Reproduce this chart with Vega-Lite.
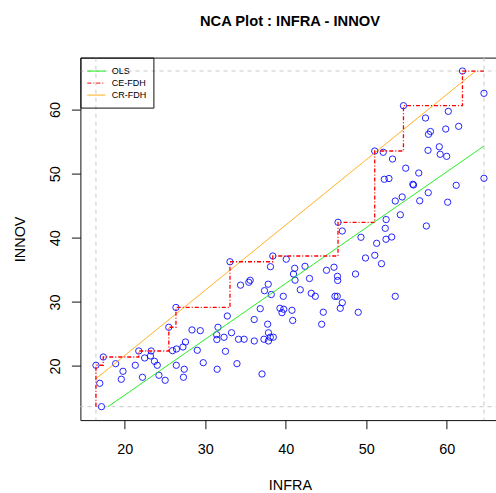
{
  "$schema": "https://vega.github.io/schema/vega-lite/v6.json",
  "width": 419.1,
  "height": 362.5,
  "autosize": {"type": "none"},
  "padding": {"left": 80.4, "top": 57.6, "right": 0, "bottom": 72.9},
  "background": "white",
  "view": {"stroke": "#111", "strokeWidth": 1},
  "title": {"text": "NCA Plot : INFRA - INNOV", "font": "Liberation Sans", "fontSize": 14.7, "fontWeight": "bold", "color": "#000", "anchor": "middle", "frame": "group", "baseline": "alphabetic", "offset": 16},
  "datasets": {
    "pts": [
      {"x":17.12,"y":13.65},{"x":16.91,"y":17.30},{"x":16.43,"y":20.11},{"x":17.34,"y":21.40},{"x":18.88,"y":20.36},
      {"x":19.79,"y":19.17},{"x":19.58,"y":17.93},{"x":21.32,"y":20.11},{"x":21.75,"y":22.34},{"x":22.21,"y":18.24},
      {"x":22.48,"y":21.25},{"x":23.20,"y":21.56},{"x":23.29,"y":22.34},{"x":23.70,"y":20.73},{"x":24.05,"y":20.11},
      {"x":24.26,"y":18.55},{"x":25.03,"y":17.77},{"x":25.48,"y":26.04},{"x":25.94,"y":22.39},{"x":26.37,"y":29.13},
      {"x":26.43,"y":22.65},{"x":26.41,"y":20.11},{"x":27.24,"y":22.96},{"x":27.55,"y":23.74},{"x":27.40,"y":19.49},
      {"x":27.30,"y":18.24},{"x":28.36,"y":25.62},{"x":29.39,"y":25.51},{"x":29.02,"y":22.45},{"x":29.76,"y":20.51},
      {"x":31.59,"y":26.04},{"x":31.43,"y":24.88},{"x":31.45,"y":24.13},{"x":32.34,"y":24.48},{"x":32.52,"y":22.29},
      {"x":31.49,"y":19.49},{"x":32.75,"y":27.80},{"x":33.08,"y":36.26},{"x":33.27,"y":25.19},{"x":33.95,"y":20.36},
      {"x":34.14,"y":24.17},{"x":34.84,"y":24.17},{"x":34.39,"y":32.61},{"x":35.42,"y":33.06},{"x":35.59,"y":33.37},
      {"x":36.09,"y":27.25},{"x":36.10,"y":23.90},{"x":36.84,"y":28.94},{"x":37.06,"y":18.75},{"x":37.37,"y":31.75},
      {"x":37.83,"y":32.76},{"x":38.21,"y":31.15},{"x":38.11,"y":35.49},{"x":38.40,"y":37.16},{"x":37.76,"y":26.52},
      {"x":37.86,"y":25.18},{"x":37.30,"y":24.17},{"x":37.86,"y":23.90},{"x":38.09,"y":24.49},{"x":38.46,"y":24.49},
      {"x":39.70,"y":30.87},{"x":39.29,"y":29.00},{"x":39.54,"y":28.32},{"x":39.76,"y":28.85},{"x":40.78,"y":28.69},
      {"x":40.87,"y":27.10},{"x":41.12,"y":35.24},{"x":40.97,"y":34.35},{"x":41.16,"y":33.39},{"x":40.07,"y":36.66},
      {"x":42.40,"y":35.55},{"x":41.81,"y":31.89},{"x":42.96,"y":33.65},{"x":43.18,"y":31.34},{"x":43.68,"y":30.87},
      {"x":44.67,"y":28.39},{"x":44.47,"y":26.51},{"x":45.07,"y":34.93},{"x":46.00,"y":35.41},{"x":46.43,"y":33.99},
      {"x":46.46,"y":33.34},{"x":47.03,"y":41.06},{"x":46.50,"y":42.42},{"x":46.12,"y":30.87},{"x":46.41,"y":30.87},
      {"x":47.03,"y":29.88},{"x":46.78,"y":29.00},{"x":48.67,"y":34.35},{"x":49.01,"y":28.38},{"x":49.35,"y":40.08},
      {"x":51.30,"y":39.14},{"x":52.46,"y":39.77},{"x":53.17,"y":40.12},{"x":49.91,"y":36.85},{"x":51.07,"y":37.27},
      {"x":51.90,"y":35.96},{"x":53.61,"y":30.87},{"x":52.37,"y":41.48},{"x":57.47,"y":41.84},{"x":52.48,"y":42.85},
      {"x":54.24,"y":43.59},{"x":53.61,"y":45.74},{"x":54.47,"y":46.37},{"x":56.65,"y":45.77},{"x":60.12,"y":45.55},
      {"x":57.71,"y":47.04},{"x":55.79,"y":48.35},{"x":55.88,"y":48.24},{"x":61.18,"y":48.19},{"x":64.63,"y":49.28},
      {"x":52.25,"y":49.13},{"x":52.83,"y":49.25},{"x":54.91,"y":50.86},{"x":56.53,"y":50.11},{"x":51.06,"y":53.54},
      {"x":52.12,"y":53.34},{"x":53.27,"y":52.29},{"x":57.68,"y":53.65},{"x":59.08,"y":54.20},{"x":59.19,"y":53.03},
      {"x":60.00,"y":52.71},{"x":57.74,"y":56.15},{"x":57.99,"y":56.58},{"x":59.88,"y":56.97},{"x":61.49,"y":57.39},
      {"x":57.37,"y":58.69},{"x":60.20,"y":59.73},{"x":54.63,"y":60.61},{"x":64.63,"y":62.54},{"x":61.96,"y":66.02}
    ],
    "lines": [
      {"series":"OLS","i":0,"x":17.93,"y":13.65},
      {"series":"OLS","i":1,"x":64.63,"y":54.32},
      {"series":"CR-FDH","i":0,"x":16.43,"y":18.0},
      {"series":"CR-FDH","i":1,"x":63.6,"y":66.02},
      {"series":"CE-FDH","i":0,"x":16.43,"y":13.65},
      {"series":"CE-FDH","i":1,"x":16.43,"y":20.11},
      {"series":"CE-FDH","i":2,"x":17.34,"y":21.40},
      {"series":"CE-FDH","i":3,"x":21.75,"y":22.34},
      {"series":"CE-FDH","i":4,"x":25.48,"y":26.04},
      {"series":"CE-FDH","i":5,"x":26.37,"y":29.13},
      {"series":"CE-FDH","i":6,"x":33.08,"y":36.26},
      {"series":"CE-FDH","i":7,"x":38.40,"y":37.16},
      {"series":"CE-FDH","i":8,"x":46.50,"y":42.42},
      {"series":"CE-FDH","i":9,"x":51.06,"y":53.54},
      {"series":"CE-FDH","i":10,"x":54.63,"y":60.61},
      {"series":"CE-FDH","i":11,"x":61.96,"y":66.02},
      {"series":"CE-FDH","i":12,"x":64.63,"y":66.02}
    ],
    "vlines": [{"x":16.43},{"x":64.63}],
    "hlines": [{"y":13.65},{"y":66.02}]
  },
  "config": {
    "font": "Liberation Sans",
    "axis": {
      "grid": false,
      "domain": false,
      "tickColor": "#111",
      "tickWidth": 1,
      "labelFont": "Liberation Sans",
      "labelFontSize": 14.4,
      "labelColor": "#000",
      "titleFont": "Liberation Sans",
      "titleFontSize": 14.4,
      "titleFontWeight": "normal",
      "titleColor": "#000"
    }
  },
  "layer": [
    {
      "data": {"name": "vlines"},
      "mark": {"type": "rule", "stroke": "#c8c8c8", "strokeDash": [4, 4], "strokeWidth": 1},
      "encoding": {"x": {"field": "x", "type": "quantitative"}}
    },
    {
      "data": {"name": "hlines"},
      "mark": {"type": "rule", "stroke": "#c8c8c8", "strokeDash": [4, 4], "strokeWidth": 1},
      "encoding": {"y": {"field": "y", "type": "quantitative"}}
    },
    {
      "data": {"name": "pts"},
      "mark": {"type": "point", "shape": "circle", "filled": false, "size": 40, "stroke": "#0000ff", "strokeWidth": 1, "opacity": 0.85},
      "encoding": {
        "x": {"field": "x", "type": "quantitative", "scale": {"domain": [14.50, 66.56], "nice": false, "zero": false},
              "axis": {"values": [20, 30, 40, 50, 60], "title": "INFRA", "tickSize": 8.6, "labelPadding": 24.4, "labelBaseline": "alphabetic", "labelAlign": "center", "titleX": 209.5, "titleY": 68.9, "titleBaseline": "alphabetic", "titleAlign": "center"}},
        "y": {"field": "y", "type": "quantitative", "scale": {"domain": [11.555, 68.115], "nice": false, "zero": false},
              "axis": {"values": [20, 30, 40, 50, 60], "title": "INNOV", "tickSize": 9, "labelAngle": 270, "labelAlign": "center", "labelBaseline": "alphabetic", "labelPadding": 12.1, "titleAngle": 270, "titleX": -56.4, "titleY": 181.25, "titleAlign": "center", "titleBaseline": "alphabetic"}}
      }
    },
    {
      "data": {"name": "lines"},
      "transform": [{"filter": "datum.series !== 'CE-FDH'"}],
      "mark": {"type": "line", "strokeWidth": 1},
      "encoding": {
        "x": {"field": "x", "type": "quantitative"},
        "y": {"field": "y", "type": "quantitative"},
        "detail": {"field": "series"},
        "order": {"field": "i"},
        "color": {"field": "series", "type": "nominal",
          "scale": {"domain": ["OLS", "CE-FDH", "CR-FDH"], "range": ["#00ee00", "#ff0000", "#ffa500"]},
          "legend": {"title": null, "orient": "none", "legendX": 0, "legendY": 0, "strokeColor": "#111", "padding": 7, "labelFontSize": 9, "labelFont": "Liberation Sans", "labelColor": "#000", "symbolType": "M-1.1,0H1.9", "symbolSize": 144, "symbolStrokeWidth": 1, "labelOffset": 11.3, "rowPadding": 0}},
        "strokeDash": {"field": "series", "type": "nominal",
          "scale": {"domain": ["OLS", "CE-FDH", "CR-FDH"], "range": [[1, 0], [4, 2, 1, 2], [1, 0]]},
          "legend": {"title": null, "orient": "none", "legendX": 0, "legendY": 0, "strokeColor": "#111", "padding": 7, "labelFontSize": 9, "labelFont": "Liberation Sans", "labelColor": "#000", "symbolType": "M-1.1,0H1.9", "symbolSize": 144, "symbolStrokeWidth": 1, "labelOffset": 11.3, "rowPadding": 0}}
      }
    },
    {
      "data": {"name": "lines"},
      "transform": [{"filter": "datum.series === 'CE-FDH'"}],
      "mark": {"type": "line", "strokeWidth": 1.3, "interpolate": "step-after"},
      "encoding": {
        "x": {"field": "x", "type": "quantitative"},
        "y": {"field": "y", "type": "quantitative"},
        "order": {"field": "i"},
        "color": {"field": "series", "type": "nominal"},
        "strokeDash": {"field": "series", "type": "nominal"}
      }
    }
  ]
}
